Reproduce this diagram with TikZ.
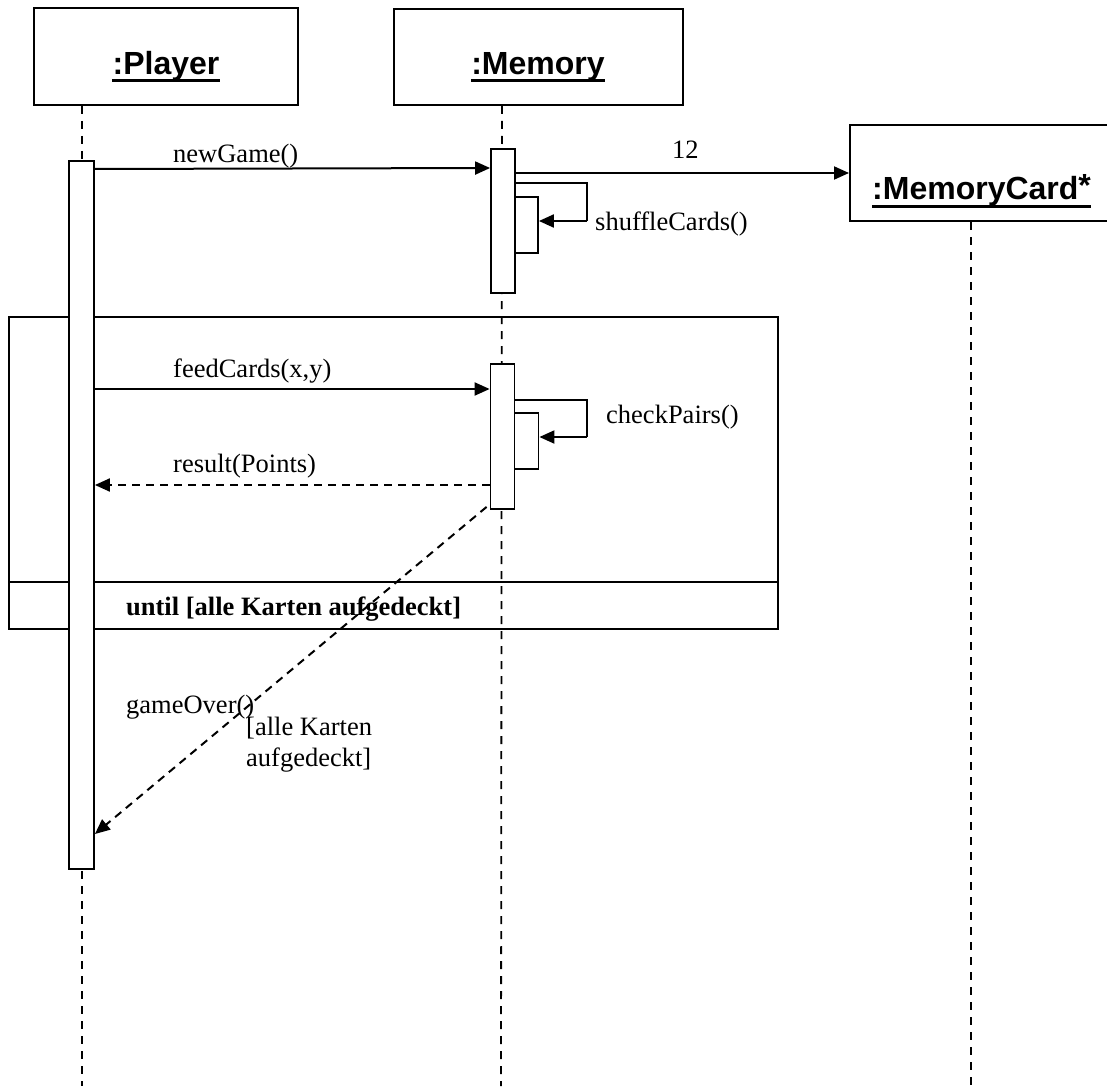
\documentclass[tikz,border=0pt]{standalone}
\usepackage{fontspec}
\setmainfont{Liberation Serif}
\setsansfont{Liberation Sans}
\usetikzlibrary{arrows.meta}
\begin{document}
\begin{tikzpicture}[x=1pt,y=-1pt,
  objbox/.style={draw, line width=2pt, fill=white, inner sep=0pt},
  actbar/.style={draw, line width=1.8pt, fill=white, inner sep=0pt, minimum width=24pt},
  lifeline/.style={line width=1.8pt, dash pattern=on 8pt off 7pt},
  msg/.style={line width=2pt, -{Triangle[length=15pt,width=13pt]}},
  reply/.style={line width=2pt, dash pattern=on 8pt off 6pt, -{Triangle[length=15pt,width=13pt]}},
  loopline/.style={line width=2pt},
  objname/.style={font=\sffamily\bfseries\fontsize{32pt}{36pt}\selectfont, inner sep=0pt},
  lbl/.style={font=\fontsize{26.5pt}{31pt}\selectfont, inner sep=0pt, anchor=base west},
  lblbold/.style={font=\bfseries\fontsize{26.5pt}{31pt}\selectfont, inner sep=0pt, anchor=base west},
  uline/.style={line width=3pt},
  frameline/.style={line width=2.8pt}
]
\useasboundingbox (0,0) rectangle (1107,1086);
\fill[white] (0,0) rectangle (1107,1086);

% object boxes
\node[objbox, minimum width=264pt, minimum height=97pt] (player) at (166,56.5) {};
\node[objbox, minimum width=289pt, minimum height=96pt] (memory) at (538.5,57) {};
\node[objbox, minimum width=270pt, minimum height=96pt] (card) at (985,173) {};

% object names
\node[objname, anchor=base] (nplayer) at (166,75) {:Player};
\node[objname, anchor=base] (nmemory) at (538,75) {:Memory};
\node[objname, anchor=base west] (ncard) at (872,200) {:MemoryCard\raisebox{4pt}{*}};
\draw[uline] ([yshift=-5.5pt]nplayer.base west) -- ([yshift=-5.5pt]nplayer.base east);
\draw[uline] ([yshift=-5.5pt]nmemory.base west) -- ([yshift=-5.5pt]nmemory.base east);
\draw[uline] ([yshift=-6pt]ncard.base west) -- ([yshift=-6pt]ncard.base east);

% lifeline ends
\coordinate (pend) at (82,1086);
\coordinate (mend) at (501,1086);
\coordinate (cend) at (971,1086);

% lifelines
\draw[lifeline] (player.south -| 82,0) -- (pend);
\draw[lifeline] (memory.south -| 502,0) -- (mend);
\draw[lifeline] (card.south -| 971,0) -- (cend);

% loop frame
\draw[frameline] (9,317) rectangle (778,629);
\draw[frameline] (9,582) -- (778,582);

% activation bars
\node[actbar, minimum width=25pt, minimum height=708pt] (pbar) at (81.5,515) {};
\node[actbar, minimum height=144pt] (mbar1) at (503,221) {};
\node[actbar, minimum height=145pt] (mbar2) at (502.5,436.5) {};
\node[actbar, minimum width=23pt, minimum height=56pt] (sbar1) at (526.5,225) {};
\node[actbar, minimum width=24pt, minimum height=56pt] (sbar2) at (526.5,441) {};

% messages
\draw[msg] (pbar.east |- 0,169) -- (mbar1.west |- 0,168);
\draw[msg] (mbar1.east |- 0,173) -- (card.west |- 0,173);
\draw[loopline] (mbar1.east |- 0,183) -- (587,183) -- (587,221);
\draw[msg] (587,221) -- (sbar1.east |- 0,221);
\draw[msg] (pbar.east |- 0,389) -- (mbar2.west |- 0,389);
\draw[loopline] (mbar2.east |- 0,400) -- (587,400) -- (587,437);
\draw[msg] (587,437) -- (sbar2.east |- 0,437);
\draw[reply] (mbar2.west |- 0,485) -- (pbar.east |- 0,485);
\draw[reply] ([shift={(-3pt,3pt)}]mbar2.south west) -- (pbar.east |- 0,834);

% message labels
\node[lbl] (lnew) at (173,163) {newGame()};
\node[lbl] (lcount) at (672,159) {12};
\node[lbl] (lshuffle) at (595,230) {shuffleCards()};
\node[lbl] (lfeed) at (173,377) {feedCards(x,y)};
\node[lbl] (lcheck) at (606,423) {checkPairs()};
\node[lbl] (lresult) at (173,472) {result(Points)};
\node[lblbold] (luntil) at (126,615) {until [alle Karten aufgedeckt]};
\node[lbl] (lover) at (126,713) {gameOver()};
\node[lbl] (lguard1) at (246,735) {[alle Karten};
\node[lbl] (lguard2) at (246,766) {aufgedeckt]};
\end{tikzpicture}
\end{document}
